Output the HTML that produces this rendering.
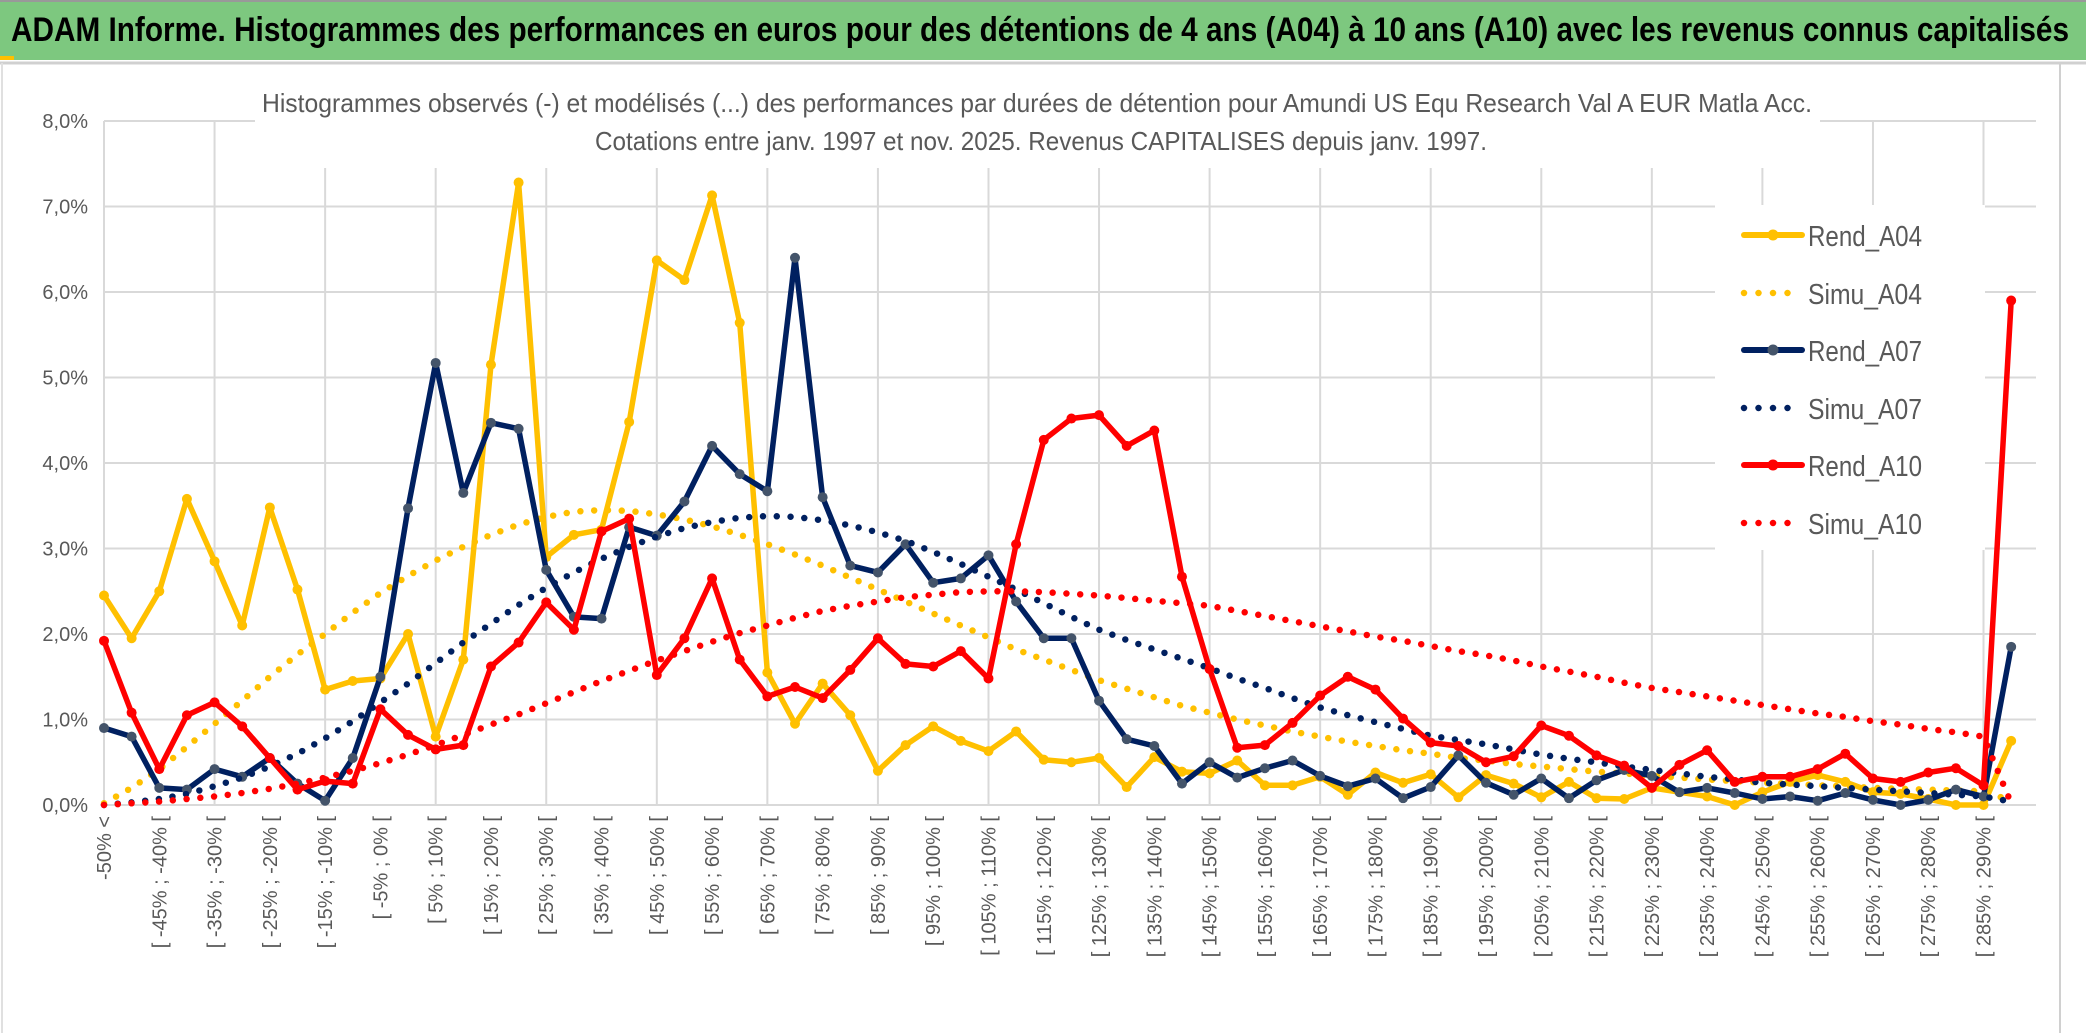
<!DOCTYPE html>
<html><head><meta charset="utf-8"><style>
html,body{margin:0;padding:0;background:#fff;}
svg{display:block;}
text{font-family:"Liberation Sans",sans-serif;}
</style></head><body>
<svg id="chart" width="2086" height="1033" viewBox="0 0 2086 1033" xmlns="http://www.w3.org/2000/svg">
<rect x="0" y="0" width="2086" height="1033" fill="#fff"/>
<rect x="0" y="0" width="2086" height="60" fill="#7DC87F"/>
<line x1="0" y1="1" x2="2086" y2="1" stroke="#999" stroke-width="2"/>
<rect x="0" y="56" width="14" height="4" fill="#FFC000"/>
<line x1="0" y1="63" x2="2086" y2="63" stroke="#d0d0d0" stroke-width="3"/>
<line x1="2060" y1="63" x2="2060" y2="1033" stroke="#d0d0d0" stroke-width="2"/>
<line x1="2" y1="63" x2="2" y2="1033" stroke="#e0e0e0" stroke-width="2"/>
<text x="11" y="41" font-size="34" font-weight="bold" fill="#000" textLength="2058" lengthAdjust="spacingAndGlyphs">ADAM Informe. Histogrammes des performances en euros pour des détentions de 4 ans (A04) à 10 ans (A10) avec les revenus connus capitalisés</text>
<g id="grid"></g>
<rect x="255" y="80" width="1565" height="88" fill="#fff"/>
<text x="262" y="112" font-size="26" fill="#595959" textLength="1550" lengthAdjust="spacingAndGlyphs">Histogrammes observés (-) et modélisés (...) des performances par durées de détention pour Amundi US Equ Research Val A EUR Matla Acc.</text>
<text x="595" y="150" font-size="26" fill="#595959" textLength="892" lengthAdjust="spacingAndGlyphs">Cotations entre janv. 1997 et nov. 2025. Revenus CAPITALISES depuis janv. 1997.</text>
<g id="yaxis"></g>
<g id="xaxis"></g>
<g id="series"></g>
<g id="legend"></g>
</svg>
<script>
const NS='http://www.w3.org/2000/svg';
const yTicks=[0,1,2,3,4,5,6,7,8];
const yTickLabels=['0,0%','1,0%','2,0%','3,0%','4,0%','5,0%','6,0%','7,0%','8,0%'];
const nCat=70;
const rendA04=[2.45,1.95,2.5,3.58,2.85,2.1,3.48,2.52,1.35,1.45,1.48,2.0,0.8,1.7,5.15,7.28,2.9,3.16,3.22,4.48,6.37,6.14,7.13,5.64,
1.55,0.95,1.42,1.05,0.4,0.7,0.92,0.75,0.63,
0.86,0.53,0.5,0.55,0.21,0.56,0.39,0.37,0.52,0.23,0.23,0.33,0.12,0.38,0.26,0.36,0.09,0.35,
0.25,0.09,0.27,0.08,0.07,0.2,0.15,0.1,0.0,0.15,0.27,0.35,0.27,0.15,0.13,0.07,0.0,0.0,0.75];
const rendA07=[0.9,0.8,0.2,0.18,0.42,0.33,0.55,0.25,0.05,0.55,1.5,3.47,5.17,3.65,4.47,4.4,2.75,2.2,2.18,3.25,3.15,3.55,4.2,3.87,3.67,6.4,
3.6,2.8,2.72,3.05,2.6,2.65,2.92,
2.38,1.95,1.95,1.22,0.77,0.69,0.25,0.5,0.32,0.43,0.52,0.34,0.22,0.31,0.08,0.21,0.58,0.26,
0.12,0.31,0.08,0.29,0.41,0.34,0.15,0.2,0.14,0.07,0.1,0.05,0.14,0.06,0.0,0.06,0.18,0.1,1.85];
const rendA10=[1.92,1.08,0.42,1.05,1.2,0.92,0.55,0.18,0.28,0.25,1.12,0.82,0.65,0.7,1.62,1.9,2.37,2.05,3.2,3.35,1.52,1.95,2.65,1.7,1.27,1.38,1.25,1.58,1.95,1.65,1.62,1.8,1.48,
3.05,4.27,4.52,4.56,4.2,4.38,2.67,
1.59,0.67,0.7,0.96,1.28,1.5,1.35,1.01,0.73,0.69,0.5,
0.57,0.93,0.81,0.58,0.46,0.2,0.47,0.64,0.27,0.33,0.33,0.42,0.6,0.31,0.27,0.38,0.43,0.23,5.9];
const simuA04=[0.02,0.2,0.42,0.68,0.95,1.22,1.5,1.76,2.0,2.25,2.48,2.68,2.86,3.02,3.16,3.28,3.37,3.43,3.45,3.44,3.4,3.34,3.26,3.16,3.05,2.93,2.8,2.66,2.52,2.38,2.24,2.1,1.96,1.82,1.7,1.58,1.46,1.36,1.26,1.16,1.08,1.0,0.93,0.86,0.8,0.74,0.69,0.64,0.6,0.55,0.52,0.48,0.45,0.42,0.39,0.37,0.34,0.32,0.3,0.28,0.26,0.25,0.23,0.22,0.2,0.19,0.18,0.17,0.16,0.05];
const simuA07=[0.0,0.03,0.07,0.13,0.22,0.32,0.45,0.6,0.78,0.98,1.2,1.42,1.66,1.9,2.12,2.34,2.54,2.72,2.88,3.02,3.14,3.24,3.31,3.36,3.38,3.37,3.33,3.27,3.19,3.09,2.96,2.82,2.67,2.52,2.36,2.2,2.05,1.93,1.82,1.71,1.6,1.48,1.37,1.25,1.14,1.05,0.97,0.89,0.81,0.76,0.71,0.65,0.59,0.54,0.5,0.45,0.41,0.37,0.33,0.3,0.26,0.24,0.22,0.2,0.18,0.16,0.14,0.12,0.1,0.04];
const simuA10=[0.0,0.02,0.04,0.07,0.1,0.14,0.19,0.25,0.32,0.4,0.49,0.59,0.7,0.82,0.94,1.06,1.19,1.32,1.45,1.57,1.69,1.8,1.91,2.01,2.1,2.19,2.27,2.33,2.38,2.43,2.46,2.49,2.5,2.5,2.49,2.47,2.45,2.42,2.39,2.36,2.33,2.27,2.21,2.15,2.09,2.03,1.97,1.92,1.86,1.8,1.75,1.69,1.62,1.56,1.5,1.43,1.37,1.32,1.27,1.22,1.17,1.12,1.07,1.03,0.98,0.94,0.89,0.85,0.8,0.02];
const seriesNames=['Rend_A04','Simu_A04','Rend_A07','Simu_A07','Rend_A10','Simu_A10'];

function catLabel(i){
  if(i===0) return '-50% <';
  const lo=-50+5*(i-1), hi=lo+5;
  return '[ '+lo+'% ; '+hi+'% [';
}
const X0=104, XSTEP=27.64, Y0=805, YPX=85.5, XRIGHT=2036;
function xs(i){return X0+XSTEP*i;}
function ys(v){return Y0-YPX*v;}
function mk(tag,attrs,parent){const e=document.createElementNS(NS,tag);for(const k in attrs)e.setAttribute(k,attrs[k]);parent.appendChild(e);return e;}

const grid=document.getElementById('grid');
yTicks.forEach(t=>{
  const l=mk('line',{x1:X0,x2:XRIGHT,y1:ys(t),y2:ys(t),stroke:'#D9D9D9','stroke-width':2},grid);
  
  
});
for(let i=0;i<nCat;i+=4){
  const l=mk('line',{x1:xs(i),x2:xs(i),y1:ys(8),y2:ys(0),stroke:'#D9D9D9','stroke-width':2},grid);
  
  
}
const ya=document.getElementById('yaxis');
yTicks.forEach((t,k)=>{
  const tx=mk('text',{x:88,y:ys(t)+7,'font-size':20,fill:'#595959','text-anchor':'end'},ya);
  tx.textContent=yTickLabels[k];
  
  
});
const xa=document.getElementById('xaxis');
for(let i=0;i<nCat;i+=2){
  const x=xs(i)+7, y=816;
  const tx=mk('text',{x:x,y:y,'font-size':20,fill:'#595959','text-anchor':'end',transform:'rotate(-90 '+x+' '+y+')'},xa);
  tx.textContent=catLabel(i);
  
  
}
const sg=document.getElementById('series');
function pts(arr){return arr.map((v,i)=>xs(i).toFixed(1)+','+ys(v).toFixed(1)).join(' ');}
function solid(arr,color,mcolor,name){
  const g=mk('g',{},sg);
  
  
  mk('polyline',{points:pts(arr),fill:'none',stroke:color,'stroke-width':5.5,'stroke-linejoin':'round'},g);
  arr.forEach((v,i)=>{
    const c=mk('circle',{cx:xs(i),cy:ys(v),r:5,fill:mcolor},g);
    
    
  });
}
function dotted(arr,color,name){
  const p=mk('polyline',{points:pts(arr),fill:'none',stroke:color,'stroke-width':6.5,'stroke-linecap':'round','stroke-dasharray':'0 13.8'},sg);
  
  
}
solid(rendA04,'#FFC000','#FFC000','rend-a04-line');
dotted(simuA04,'#FFC000','simu-a04-line');
solid(rendA07,'#002060','#44546A','rend-a07-line');
dotted(simuA07,'#002060','simu-a07-line');
solid(rendA10,'#FF0000','#FF0000','rend-a10-line');
dotted(simuA10,'#FF0000','simu-a10-line');

const lg=document.getElementById('legend');
const lbox=mk('rect',{x:1715,y:205,width:270,height:345,fill:'#fff'},lg);


const lColors=['#FFC000','#FFC000','#002060','#002060','#FF0000','#FF0000'];
const lMark=['#FFC000',null,'#44546A',null,'#FF0000',null];
const lRows=[235,293,350,408,465,523];
seriesNames.forEach((n,k)=>{
  const g=mk('g',{},lg);
  
  
  const y=lRows[k];
  if(lMark[k]){
    mk('line',{x1:1744,x2:1802,y1:y,y2:y,stroke:lColors[k],'stroke-width':6,'stroke-linecap':'round'},g);
    mk('circle',{cx:1773,cy:y,r:5.5,fill:lMark[k]},g);
  } else {
    mk('line',{x1:1744,x2:1802,y1:y,y2:y,stroke:lColors[k],'stroke-width':6.5,'stroke-linecap':'round','stroke-dasharray':'0 14.5'},g);
  }
  const t=mk('text',{x:1808,y:y+11,'font-size':29,fill:'#595959',textLength:114,lengthAdjust:'spacingAndGlyphs'},g);
  t.textContent=n;
});
</script>
</body></html>
